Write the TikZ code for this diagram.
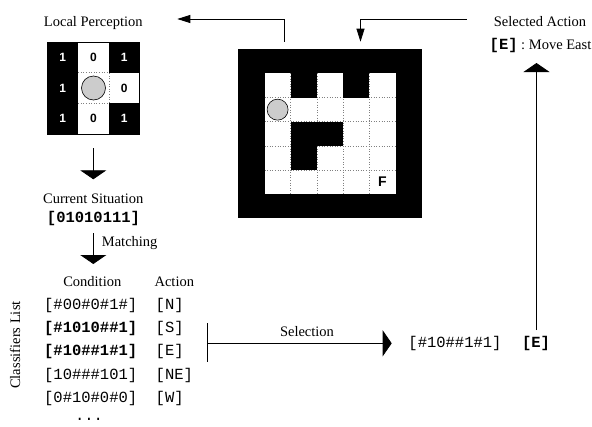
\documentclass[tikz,border=0pt]{standalone}
\usepackage{fontspec}
\setmainfont{Liberation Serif}
\setsansfont{Liberation Sans}
\setmonofont{Liberation Mono}
\usetikzlibrary{arrows.meta}
\begin{document}
\begin{tikzpicture}[x=1pt,y=-1pt,
  lbl/.style={font=\fontsize{14.5}{16}\selectfont, inner sep=0pt},
  code/.style={font=\fontsize{15.5}{17}\ttfamily, inner sep=0pt},
  bcode/.style={font=\fontsize{15.5}{17}\ttfamily\bfseries, inner sep=0pt},
  digit/.style={font=\fontsize{12}{13}\sffamily\bfseries, inner sep=0pt},
  bigarrow/.style={line width=0.8pt, -{Triangle[width=26pt,length=9pt]}},
  smallarrow/.style={line width=0.8pt, -{Triangle[width=8pt,length=13pt]}},
  cellline/.style={gray, dotted, line width=0.6pt},
  agent/.style={circle, draw=black, line width=0.6pt, fill=gray!40, inner sep=0pt},
]
\useasboundingbox (0,0) rectangle (592,426);

% ---------------- Local perception ----------------
\node[lbl] (lptitle) at (93.3,22.7) {Local Perception};
\fill[black] (47.5,42) rectangle (78.17,134);
\fill[black] (108.83,42) rectangle (139.5,72.67);
\fill[black] (108.83,103.33) rectangle (139.5,134);
\draw[cellline] (78.17,72.67) -- (108.83,72.67) -- (108.83,103.33);
\draw[cellline] (78.17,103.33) -- (108.83,103.33);
\node[draw, line width=0.5pt, minimum width=92pt, minimum height=92pt, inner sep=0pt] (lp) at (93.5,88) {};
\node[digit, white] (d11) at (62.8,57.3) {1};
\node[digit] (d12) at (93.5,57.3) {0};
\node[digit, white] (d13) at (124.2,57.3) {1};
\node[digit, white] (d21) at (62.8,88) {1};
\node[agent, minimum size=24pt] (lpagent) at (93.5,88) {};
\node[digit] (d23) at (124.2,88) {0};
\node[digit, white] (d31) at (62.8,118.7) {1};
\node[digit] (d32) at (93.5,118.7) {0};
\node[digit, white] (d33) at (124.2,118.7) {1};

% ---------------- Current situation & matching ----------------
\node[lbl] (cstitle) at (93.3,198.3) {Current Situation};
\node[bcode] (cs) at (93.5,218.3) {[01010111]};
\coordinate (a1s) at (93.3,148.3);
\coordinate (a1e) at (93.3,179.3);
\draw[bigarrow] (a1s) -- (a1e);
\coordinate (a2s) at (93.3,233.3);
\coordinate (a2e) at (93.3,264);
\draw[bigarrow] (a2s) -- (a2e);
\node[lbl, anchor=west] (matching) at (101.7,243.3) {Matching};

% ---------------- Classifiers list ----------------
\node[lbl] (condh) at (92.3,281.7) {Condition};
\node[lbl] (acth) at (174.3,281.7) {Action};
\node[lbl, rotate=90] (cl) at (15,345) {Classifiers List};

\node[code, anchor=west] (c1) at (44,305) {[\#00\#0\#1\#]};
\node[bcode, anchor=west] (c2) at (44,328.3) {[\#1010\#\#1]};
\node[bcode, anchor=west] (c3) at (44,351.7) {[\#10\#\#1\#1]};
\node[code, anchor=west] (c4) at (44,375) {[10\#\#\#101]};
\node[code, anchor=west] (c5) at (44,398.3) {[0\#10\#0\#0]};
\node[code] (cdots) at (89,419) {...};

\node[code, anchor=west] (r1) at (155.5,305) {[N]};
\node[code, anchor=west] (r2) at (155.5,328.3) {[S]};
\node[code, anchor=west] (r3) at (155.5,351.7) {[E]};
\node[code, anchor=west] (r4) at (155.5,375) {[NE]};
\node[code, anchor=west] (r5) at (155.5,398.3) {[W]};

% ---------------- Selection ----------------
\coordinate (selTop) at (207.5,323);
\coordinate (selBot) at (207.5,362);
\coordinate (selMid) at (207.5,343.3);
\draw[line width=0.8pt] (selTop) -- (selBot);
\node[code] (selcond) at (455,343.3) {[\#10\#\#1\#1]};
\node[bcode] (selact) at (536,343.3) {[E]};
\coordinate (selTip) at (391.7,343.3);
\draw[bigarrow] (selMid) -- (selTip);
\node[lbl] (seltxt) at (307,332) {Selection};

% ---------------- Selected action ----------------
\node[lbl] (satitle) at (540,21.7) {Selected Action};
\node[lbl, anchor=east] (sa) at (591.5,45) {{\fontsize{15.5}{17}\ttfamily\bfseries [E]} : Move East};
\coordinate (upS) at (536.5,330);
\coordinate (upE) at (536.5,63);
\draw[bigarrow] (upS) -- (upE);

% ---------------- Environment grid ----------------
\fill[black] (238.3,49.3) rectangle (421.7,218.3);
\fill[white] (264.5,73.44) rectangle (395.5,194.14);
\foreach \xx in {290.7,316.9,343.1,369.3}
  \draw[cellline] (\xx,73.44) -- (\xx,194.14);
\foreach \yy in {97.58,121.72,145.86,170.0}
  \draw[cellline] (264.5,\yy) -- (395.5,\yy);
\fill[black] (290.7,73.44) rectangle (316.9,97.58);
\fill[black] (343.1,73.44) rectangle (369.3,97.58);
\fill[black] (290.7,121.72) rectangle (343.1,145.86);
\fill[black] (290.7,145.86) rectangle (316.9,170.0);
\node[minimum width=183.4pt, minimum height=169pt, inner sep=0pt] (env) at (330,133.8) {};
\node[agent, minimum size=21pt] (envagent) at (277.6,109.65) {};
\node[font=\fontsize{14}{15}\sffamily\bfseries, inner sep=0pt] (goal) at (382.4,182.1) {F};

% ---------------- Top connectors ----------------
\coordinate (envL) at (284.3,41.7);
\coordinate (lpTip) at (177.3,19);
\draw[smallarrow] (envL) |- (lpTip);
\coordinate (saL) at (466.7,19);
\coordinate (envR) at (360.5,41.7);
\draw[smallarrow] (saL) -| (envR);
\end{tikzpicture}
\end{document}
